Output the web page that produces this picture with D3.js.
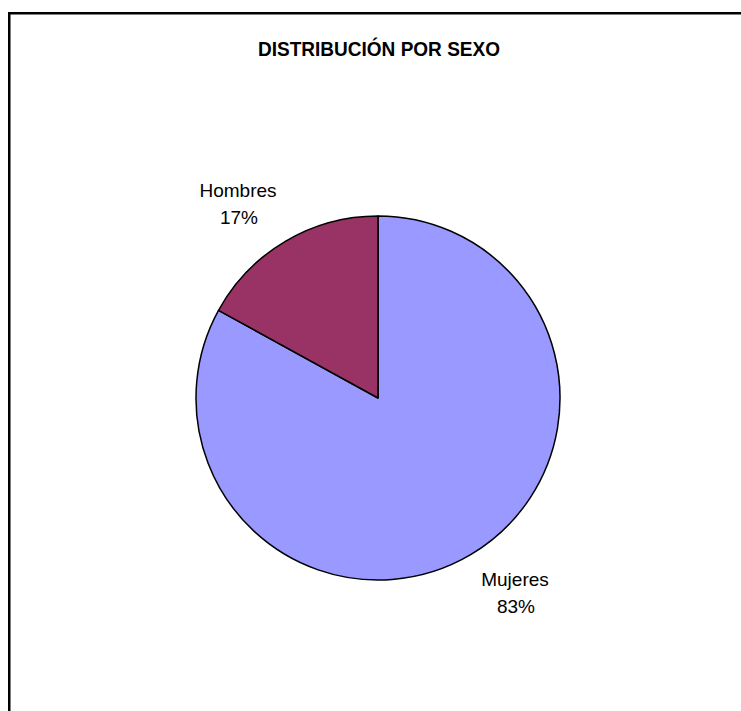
<!DOCTYPE html>
<html><head><meta charset="utf-8">
<script src="https://cdn.jsdelivr.net/npm/d3@7"></script>
<style>body{margin:0;background:#fff;}svg{display:block;}</style>
</head><body>
<svg id="chart" width="741" height="711"></svg>
<script>
const title = "DISTRIBUCIÓN POR SEXO";
const categories = ["Mujeres", "Hombres"];
const values = [83, 17];
const colors = ["#9999FF", "#993366"];

const svg = d3.select("#chart");
const W = 741, H = 711;
const cx = 378, cy = 398, r = 182;

// frame (extends beyond right/bottom edges)
svg.append("rect").attr("x", 9.25).attr("y", 13.25).attr("width", 760).attr("height", 720)
  .attr("fill", "#fff").attr("stroke", "#000").attr("stroke-width", 2.5);

svg.append("text").attr("x", 379).attr("y", 56).attr("text-anchor", "middle")
  .attr("font-family", "Liberation Sans, Arial, sans-serif").attr("font-weight", "bold")
  .attr("font-size", 20).attr("textLength", 242).attr("lengthAdjust", "spacingAndGlyphs")
  .text(title);

const data = categories.map((c, i) => ({ cat: c, value: values[i], color: colors[i] }));
const pie = d3.pie().value(d => d.value).sort(null);
const arcs = pie(data);
const arc = d3.arc().innerRadius(0).outerRadius(r);

const g = svg.append("g").attr("transform", `translate(${cx},${cy})`);
g.selectAll("path").data(arcs).join("path")
  .attr("d", arc).attr("fill", d => d.data.color)
  .attr("stroke", "#000").attr("stroke-width", 1.5).attr("stroke-linejoin", "round");

// label positions relative to arc centroid direction
const labelArc = d3.arc().innerRadius(r + 45).outerRadius(r + 45);
const offsets = [[0, 0], [0, 0]];
const lbl = svg.append("g").attr("font-family", "Liberation Sans, Arial, sans-serif").attr("font-size", 19).attr("fill", "#000");
const labelPos = arcs.map(a => {
  const [x, y] = labelArc.centroid(a);
  return [cx + x, cy + y];
});
// Measured positions from reference (center of label block)
const fixed = [[515, 593], [238, 204]];
arcs.forEach((a, i) => {
  const [x, y] = fixed[i];
  const t = lbl.append("text").attr("text-anchor", "middle");
  t.append("tspan").attr("x", x).attr("y", y - 7).text(a.data.cat);
  t.append("tspan").attr("x", x + 1).attr("y", y + 20).text(Math.round(a.data.value) + "%");
});
</script>
</body></html>
